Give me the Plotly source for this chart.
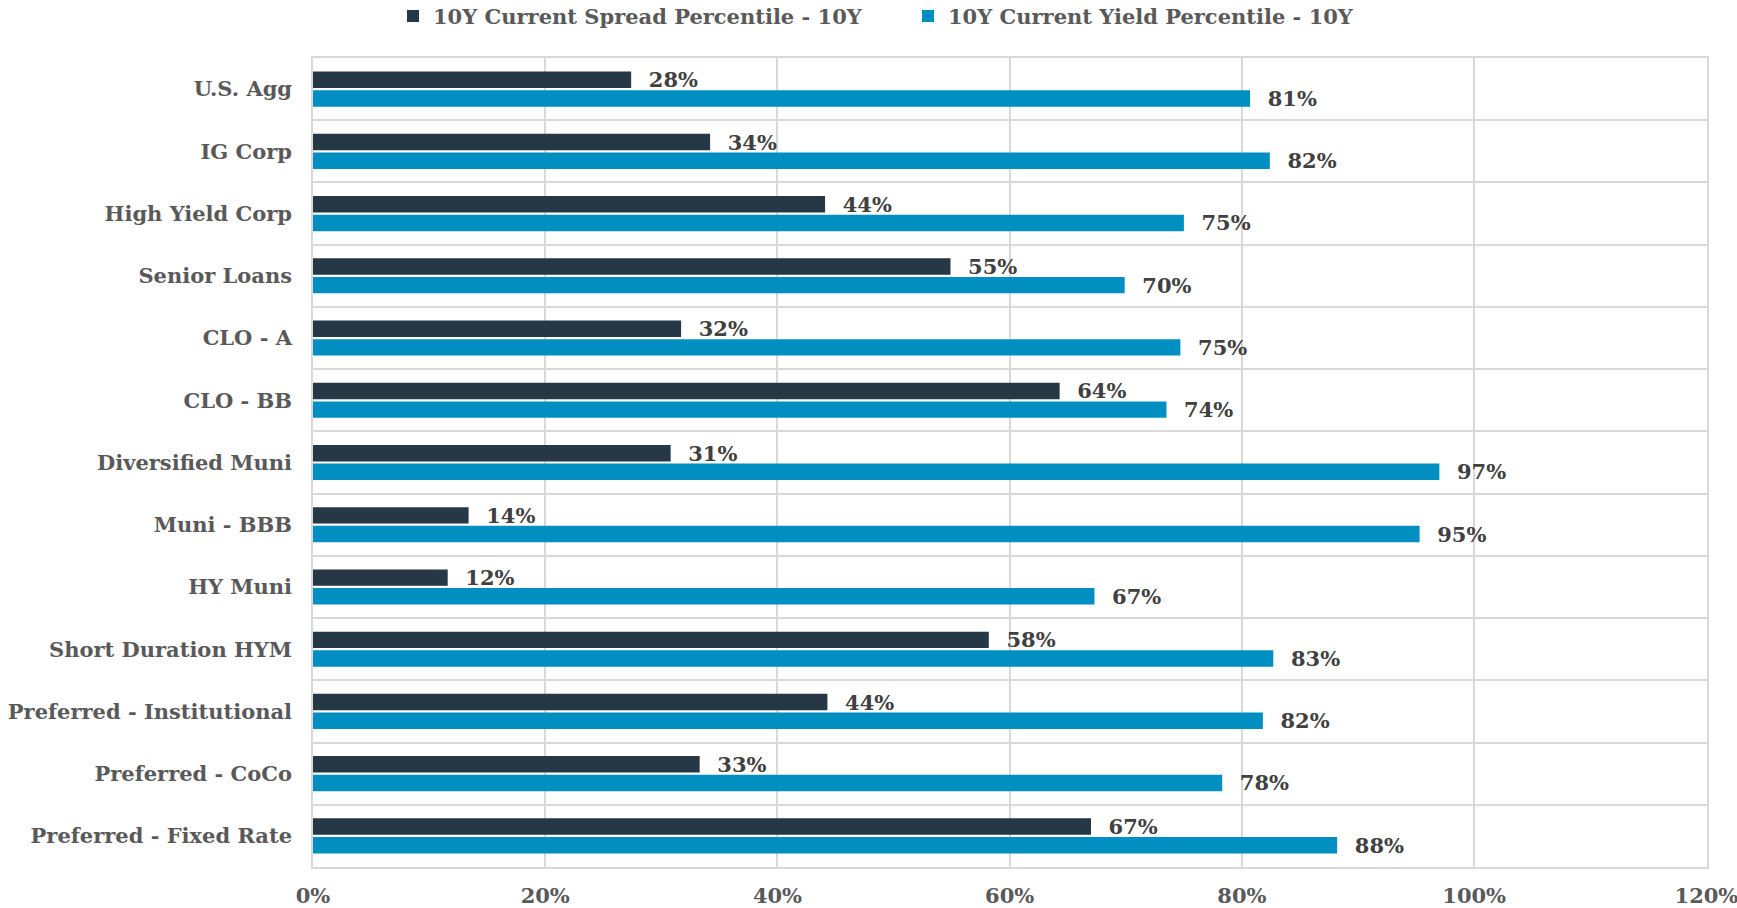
import plotly.graph_objects as go

categories = ["U.S. Agg", "IG Corp", "High Yield Corp", "Senior Loans", "CLO - A", "CLO - BB",
              "Diversified Muni", "Muni - BBB", "HY Muni", "Short Duration HYM",
              "Preferred - Institutional", "Preferred - CoCo", "Preferred - Fixed Rate"]
spread_pct = [27.4, 34.2, 44.1, 54.9, 31.7, 64.3, 30.8, 13.4, 11.6, 58.2, 44.3, 33.3, 67.0]
yield_pct = [80.7, 82.4, 75.0, 69.9, 74.7, 73.5, 97.0, 95.3, 67.3, 82.7, 81.8, 78.3, 88.2]
spread_labels = ["28%", "34%", "44%", "55%", "32%", "64%", "31%", "14%", "12%", "58%", "44%", "33%", "67%"]
yield_labels = ["81%", "82%", "75%", "70%", "75%", "74%", "97%", "95%", "67%", "83%", "82%", "78%", "88%"]
x_ticks = [0, 20, 40, 60, 80, 100, 120]
x_tick_text = ["0%", "20%", "40%", "60%", "80%", "100%", "120%"]

FONT = "DejaVu Serif"
LABEL_FONT = dict(family=FONT, size=21, color="#404040", weight="bold")

fig = go.Figure()
fig.add_trace(go.Bar(
    y=categories, x=spread_pct, orientation="h",
    name="10Y Current Spread Percentile - 10Y",
    marker=dict(color="#263746", line=dict(width=0)),
    text=spread_labels, texttemplate="  %{text}", textposition="outside",
    constraintext="none", cliponaxis=False, textfont=LABEL_FONT,
))
fig.add_trace(go.Bar(
    y=categories, x=yield_pct, orientation="h",
    name="10Y Current Yield Percentile - 10Y",
    marker=dict(color="#008fc0", line=dict(width=0)),
    text=yield_labels, texttemplate="  %{text}", textposition="outside",
    constraintext="none", cliponaxis=False, textfont=LABEL_FONT,
))

fig.update_layout(
    width=1737, height=908,
    margin=dict(l=313, r=30, t=58, b=41, autoexpand=False),
    paper_bgcolor="white", plot_bgcolor="white",
    barmode="group", bargap=0.40, bargroupgap=0.12,
    font=dict(family=FONT, size=20, color="#595959", weight="bold"),
    showlegend=True,
    legend=dict(orientation="h", x=908 / 1737, xref="container", xanchor="center",
                y=0.982, yref="container", yanchor="middle",
                font=dict(family=FONT, size=21, color="#595959", weight="bold"),
                itemwidth=30, traceorder="normal", entrywidth=470),
)
fig.update_xaxes(range=[0, 120.05], tickvals=x_ticks, ticktext=x_tick_text, tickangle=0,
                 showgrid=True, gridcolor="#d9d9d9", gridwidth=1.5,
                 showline=True, linecolor="#d9d9d9", linewidth=1.5, mirror=True,
                 zeroline=False, ticks="", ticklabelstandoff=9, automargin=False,
                 ticklabeloverflow="allow",
                 tickfont=dict(family=FONT, size=21, color="#595959", weight="bold"))
fig.update_yaxes(autorange="reversed", type="category", tickson="boundaries",
                 showgrid=True, gridcolor="#d9d9d9", gridwidth=1.5,
                 showline=True, linecolor="#d9d9d9", linewidth=1.5, mirror=True,
                 ticks="", ticklabelstandoff=15, automargin=False,
                 tickfont=dict(family=FONT, size=21, color="#595959", weight="bold"))

fig.write_html("out.html")
